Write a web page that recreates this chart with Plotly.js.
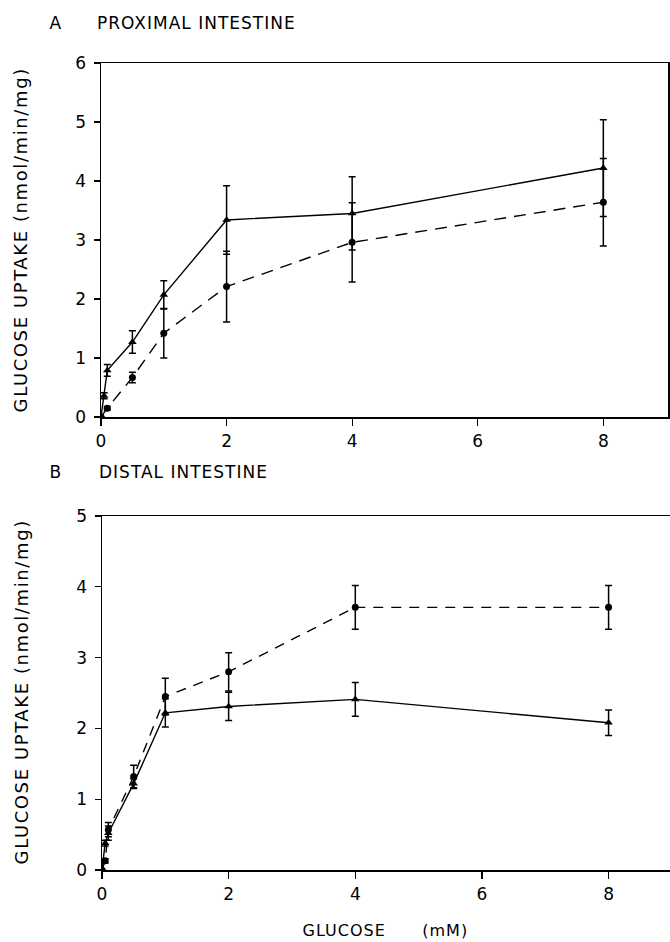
<!DOCTYPE html>
<html>
<head>
<meta charset="utf-8">
<script src="https://cdn.plot.ly/plotly-3.0.1.min.js"></script>
<style>
  html, body { margin: 0; padding: 0; background: #fff; }
  #chart { width: 670px; height: 942px; }
  .annotation text.annotation-text { letter-spacing: 1px; }
  .annotation[data-index="4"] text.annotation-text,
  .annotation[data-index="5"] text.annotation-text { letter-spacing: 1.6px; }
</style>
</head>
<body>
<div id="chart"></div>
<script>
// ---------- Data ----------
// Panel A: proximal intestine
const xTriA = [0, 0.05, 0.1, 0.5, 1, 2, 4, 8];
const triA = [0, 0.36, 0.79, 1.27, 2.07, 3.34, 3.45, 4.22];
const triAErr = [0, 0.05, 0.1, 0.19, 0.24, 0.58, 0.62, 0.82];

const xCirA = [0, 0.1, 0.5, 1, 2, 4, 8];
const cirA = [0, 0.15, 0.67, 1.42, 2.21, 2.96, 3.64];
const cirAErr = [0, 0.03, 0.09, 0.42, 0.6, 0.67, 0.74];

// Panel B: distal intestine
const xB = [0, 0.05, 0.1, 0.5, 1, 2, 4, 8];
const triB = [0, 0.38, 0.52, 1.22, 2.22, 2.31, 2.41, 2.08];
const triBErr = [0, 0.04, 0.1, 0.07, 0.2, 0.2, 0.24, 0.18];
const cirB = [0, 0.13, 0.57, 1.32, 2.45, 2.80, 3.71, 3.71];
const cirBErr = [0, 0.03, 0.1, 0.16, 0.26, 0.27, 0.31, 0.31];

const xTicks = [0, 2, 4, 6, 8];
const yTicksA = [0, 1, 2, 3, 4, 5, 6];
const yTicksB = [0, 1, 2, 3, 4, 5];

const titleA = ['A', 'PROXIMAL INTESTINE'];
const titleB = ['B', 'DISTAL INTESTINE'];
const yTitle = 'GLUCOSE UPTAKE (nmol/min/mg)';
const xTitle = 'GLUCOSE&nbsp;&nbsp;&nbsp;&nbsp;&nbsp;&nbsp;(mM)';

// ---------- Styling ----------
const FONT = 'DejaVu Sans, Liberation Sans, Arial, sans-serif';
const W = 670, H = 942;
const px = v => v / W;
const py = v => 1 - v / H;

function errBar(arr) {
  return { type: 'data', array: arr, visible: true, color: '#000', thickness: 1.5, width: 3.5 };
}
function solid(x, y, e, xa, ya) {
  return {
    x: x, y: y, xaxis: xa, yaxis: ya, type: 'scatter', mode: 'lines+markers',
    line: { color: '#000', width: 1.4 },
    marker: { symbol: 'triangle-up', size: 7.5, color: '#000' },
    error_y: errBar(e), showlegend: false, hoverinfo: 'skip'
  };
}
function dashed(x, y, e, xa, ya, dash) {
  return {
    x: x, y: y, xaxis: xa, yaxis: ya, type: 'scatter', mode: 'lines+markers',
    line: { color: '#000', width: 1.4, dash: dash },
    marker: { symbol: 'circle', size: 7, color: '#000' },
    error_y: errBar(e), showlegend: false, hoverinfo: 'skip'
  };
}

const traces = [
  solid(xTriA, triA, triAErr, 'x', 'y'),
  dashed(xCirA, cirA, cirAErr, 'x', 'y', '12px,8px'),
  solid(xB, triB, triBErr, 'x2', 'y2'),
  dashed(xB, cirB, cirBErr, 'x2', 'y2', '10px,8px')
];

const rangeXA = [0, 9.03];
const rangeXB = [0, 8.97];
const rangeYA = [0, 6];
const rangeYB = [0, 5];

function mainX(domain, range, anchor, mirror) {
  return {
    domain: domain, range: range, anchor: anchor,
    tickmode: 'array', tickvals: xTicks, ticktext: xTicks.map(String),
    ticks: 'outside', ticklen: 7, tickwidth: 1.3, tickcolor: '#000',
    showline: true, linecolor: '#000', linewidth: 1.5, mirror: mirror,
    showgrid: false, zeroline: false, fixedrange: true,
    tickfont: { family: FONT, size: 17, color: '#000' }, ticklabelstandoff: 1
  };
}
function mainY(domain, range, anchor, ticks, mirror) {
  return {
    domain: domain, range: range, anchor: anchor,
    tickmode: 'array', tickvals: ticks, ticktext: ticks.map(String),
    ticks: 'outside', ticklen: 6, tickwidth: 1.3, tickcolor: '#000',
    showline: true, linecolor: '#000', linewidth: 1.5, mirror: mirror,
    showgrid: false, zeroline: false, fixedrange: true,
    tickfont: { family: FONT, size: 17, color: '#000' }, ticklabelstandoff: 4
  };
}
function innerX(over, range, anchor) {
  return {
    overlaying: over, range: range, anchor: anchor,
    tickmode: 'array', tickvals: xTicks, ticks: 'inside', ticklen: 7, tickwidth: 1.3,
    tickcolor: '#000', showticklabels: false, showline: false, showgrid: false,
    zeroline: false, fixedrange: true
  };
}
function innerY(over, range, anchor, ticks) {
  return {
    overlaying: over, range: range, anchor: anchor,
    tickmode: 'array', tickvals: ticks, ticks: 'inside', ticklen: 6, tickwidth: 1.3,
    tickcolor: '#000', showticklabels: false, showline: false, showgrid: false,
    zeroline: false, fixedrange: true
  };
}

const domXA = [px(101), px(668)];
const domYA = [py(417), py(63)];
const domXB = [px(102), 1];
const domYB = [py(870), py(516)];

const layout = {
  width: W, height: H,
  margin: { l: 0, r: 0, t: 0, b: 0, pad: 0 },
  paper_bgcolor: '#fff', plot_bgcolor: 'rgba(0,0,0,0)',
  showlegend: false,
  font: { family: FONT, color: '#000' },
  xaxis: mainX(domXA, rangeXA, 'y', true),
  yaxis: mainY(domYA, rangeYA, 'x', yTicksA, true),
  xaxis2: mainX(domXB, rangeXB, 'y2', true),
  yaxis2: mainY(domYB, rangeYB, 'x2', yTicksB, false),
  xaxis3: innerX('x', rangeXA, 'y'),
  yaxis3: innerY('y', rangeYA, 'x', yTicksA),
  xaxis4: innerX('x2', rangeXB, 'y2'),
  yaxis4: innerY('y2', rangeYB, 'x2', yTicksB),
  annotations: [
    { text: titleA[0], x: px(56), y: py(23), xref: 'paper', yref: 'paper', xanchor: 'center', yanchor: 'middle', showarrow: false, font: { family: FONT, size: 17 } },
    { text: titleA[1], x: px(104), y: py(23), xref: 'paper', yref: 'paper', xanchor: 'left', yanchor: 'middle', showarrow: false, font: { family: FONT, size: 17 } },
    { text: titleB[0], x: px(56), y: py(472), xref: 'paper', yref: 'paper', xanchor: 'center', yanchor: 'middle', showarrow: false, font: { family: FONT, size: 17 } },
    { text: titleB[1], x: px(105), y: py(472), xref: 'paper', yref: 'paper', xanchor: 'left', yanchor: 'middle', showarrow: false, font: { family: FONT, size: 17 } },
    { text: yTitle, x: px(21), y: py(240), xref: 'paper', yref: 'paper', xanchor: 'center', yanchor: 'middle', textangle: -90, showarrow: false, font: { family: FONT, size: 18 } },
    { text: yTitle, x: px(21), y: py(692), xref: 'paper', yref: 'paper', xanchor: 'center', yanchor: 'middle', textangle: -90, showarrow: false, font: { family: FONT, size: 18 } },
    { text: xTitle, x: px(386), y: py(930), xref: 'paper', yref: 'paper', xanchor: 'center', yanchor: 'middle', showarrow: false, font: { family: FONT, size: 16 } }
  ]
};

Plotly.newPlot('chart', traces, layout, { staticPlot: true, displayModeBar: false });
</script>
</body>
</html>
